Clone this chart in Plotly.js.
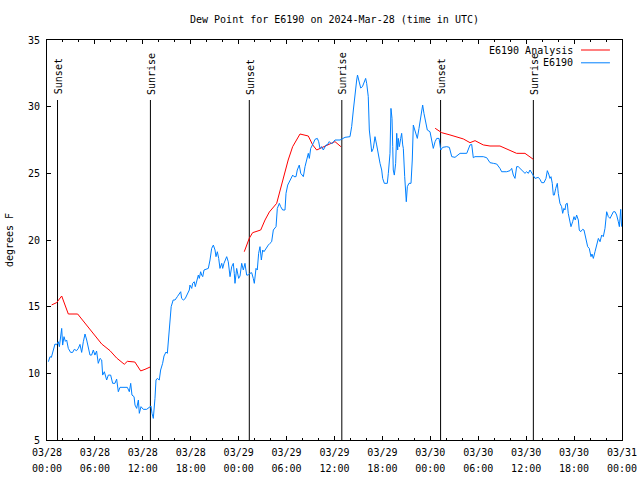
<!DOCTYPE html>
<html>
<head>
<meta charset="utf-8">
<script src="https://cdn.plot.ly/plotly-3.0.1.min.js"></script>
<style>html,body{margin:0;padding:0;background:#fff;}#chart{width:640px;height:480px;}</style>
</head>
<body>
<div id="chart"></div>
<script>
// ---- data (hours after 2024-03-28 00:00 UTC, dew point in °F) ----
var obsHours = [0.17,0.38,0.55,0.79,1.0,1.2,1.42,1.55,1.71,1.84,1.96,2.13,2.3,2.46,2.67,2.96,3.21,3.42,3.7,3.92,4.13,4.34,4.55,4.76,4.97,5.17,5.38,5.59,5.8,6.0,6.21,6.42,6.64,6.85,6.97,7.18,7.47,7.68,7.97,8.22,8.51,8.72,8.93,9.14,9.77,10.06,10.31,10.48,10.64,10.9,11.02,11.23,11.44,11.56,11.77,12.06,12.48,12.81,13.02,13.15,13.31,13.52,13.65,13.81,14.06,14.23,14.48,14.65,14.9,15.07,15.32,15.55,15.8,16.03,16.32,16.57,16.74,16.86,17.07,17.3,17.6,17.82,17.9,18.12,18.24,18.44,18.57,18.74,18.95,19.07,19.24,19.37,19.5,19.66,20.2,20.41,20.62,20.83,21.04,21.16,21.33,21.5,21.66,21.88,22.0,22.16,22.29,22.5,22.7,22.92,23.13,23.33,23.45,23.54,23.75,23.88,24.0,24.17,24.38,24.58,24.79,25.0,25.2,25.41,25.63,25.83,25.96,26.17,26.33,26.5,26.67,26.84,27.01,27.17,27.42,27.71,27.92,28.13,28.34,28.68,28.84,29.09,29.26,29.51,29.8,29.93,30.14,30.43,30.77,30.93,31.18,31.34,31.59,31.77,31.97,32.1,32.31,32.52,32.72,32.85,33.02,33.35,33.56,33.85,34.02,34.18,34.4,34.6,34.94,35.1,35.35,35.65,35.85,36.06,36.69,37.32,37.94,38.15,38.36,38.57,38.78,38.88,39.06,39.28,39.5,39.73,39.9,40.03,40.23,40.36,40.53,40.66,40.86,41.07,41.28,41.49,41.7,41.91,42.03,42.24,42.61,42.74,42.95,43.07,43.2,43.29,43.36,43.49,43.66,43.79,43.91,43.99,44.12,44.29,44.41,44.54,44.62,44.79,44.91,44.99,45.12,45.33,45.58,45.74,45.87,45.99,46.17,46.37,46.58,46.79,47.04,47.2,47.42,47.62,47.96,48.17,48.37,48.59,48.8,49.09,49.3,49.55,50.05,50.38,50.68,51.09,51.51,51.72,52.56,52.97,53.18,53.38,53.59,54.63,55.06,55.47,55.89,56.31,56.72,56.93,57.56,57.98,58.19,58.39,58.6,58.81,59.01,59.22,59.43,59.85,60.06,60.27,60.48,60.69,60.9,61.11,61.52,61.73,61.94,62.23,62.48,62.65,62.82,62.98,63.11,63.27,63.4,63.52,63.7,63.9,64.02,64.23,64.44,64.57,64.73,64.86,64.98,65.15,65.27,65.49,65.61,65.82,65.99,66.15,66.32,66.53,66.65,66.82,67.07,67.24,67.49,67.7,67.9,68.12,68.24,68.41,68.62,68.83,69.04,69.25,69.46,69.66,69.87,70.08,70.29,70.5,70.71,70.92,71.13,71.33,71.54,71.67,71.84,71.95];
var obsDewPoint = [10.87,11.25,11.2,11.87,12.2,12.15,12.37,12.0,13.12,13.37,12.12,12.75,12.4,12.5,11.87,11.57,11.57,11.8,11.7,11.87,12.17,11.57,12.37,12.95,12.5,11.87,11.37,11.37,11.75,11.37,11.67,10.75,11.12,11.0,9.87,10.12,9.5,9.87,9.87,9.25,9.25,9.57,8.62,8.95,8.95,8.95,8.62,9.25,8.37,8.25,7.62,7.37,8.0,7.0,7.5,7.3,7.3,7.5,7.55,7.0,6.62,8.12,9.5,9.62,9.5,10.25,10.75,11.3,11.6,11.5,13.5,15.0,15.5,15.5,15.75,16.0,16.12,15.62,15.5,15.6,16.0,16.25,16.62,16.37,16.75,16.87,16.5,17.0,17.37,17.12,17.62,17.37,17.25,17.75,17.87,18.5,19.37,19.62,19.25,18.75,19.12,18.62,17.87,18.25,17.87,18.25,18.5,18.75,18.37,17.25,18.0,18.25,17.5,16.75,17.87,17.5,17.12,17.3,18.25,17.75,18.25,17.37,17.37,17.5,17.55,17.12,16.75,17.87,17.75,19.0,19.5,18.5,19.25,19.12,19.37,19.62,19.75,19.87,20.75,21.0,22.37,22.75,22.5,22.25,22.25,23.5,24.12,24.5,24.87,24.75,24.75,25.25,25.62,25.0,24.87,24.75,25.5,26.12,26.5,26.12,26.87,27.25,27.55,27.62,27.37,26.87,27.0,26.75,27.13,27.13,27.38,27.2,27.38,27.5,27.5,27.7,27.75,28.5,29.75,31.12,32.0,32.37,31.87,31.4,31.5,31.87,32.12,31.75,30.75,28.25,27.13,26.62,26.87,27.75,27.13,26.37,25.75,25.25,24.62,24.25,24.25,25.0,26.5,29.87,29.12,27.0,25.25,24.87,25.75,28.0,26.75,27.62,27.0,27.62,28.0,27.13,26.87,24.75,23.62,22.87,24.0,24.25,24.25,26.0,28.62,28.37,27.87,27.62,28.37,29.37,30.12,29.5,28.87,28.25,28.12,27.5,26.87,27.37,27.62,27.62,26.75,26.95,27.0,26.95,26.25,26.2,26.37,26.5,26.5,27.13,27.17,26.17,26.25,26.25,26.17,25.8,25.75,25.7,25.37,25.12,25.12,25.2,25.37,24.87,24.62,25.5,25.5,25.37,25.25,25.0,25.12,25.0,25.25,25.05,24.87,24.62,24.7,24.55,24.3,24.3,24.62,25.2,24.95,24.62,24.75,24.25,23.37,23.37,23.87,24.25,23.5,22.75,22.5,22.0,22.37,22.25,22.7,22.75,22.0,21.37,21.0,21.37,21.75,21.5,21.87,21.5,20.75,20.62,20.8,20.75,20.12,19.5,19.37,18.75,18.95,18.62,19.12,19.75,20.12,19.87,20.37,20.25,20.87,22.12,21.75,21.62,21.87,22.12,22.12,21.87,21.37,21.0,22.3,21.0];

// analysis series (null = gap)
var anaHours = [0.58,1.2,1.84,2.67,3.84,4.76,5.8,6.85,7.89,8.72,9.68,10.06,11.0,11.73,12.27,12.9,18.0,24.7,25.33,25.75,26.76,27.3,27.84,28.76,29.6,30.2,30.76,31.68,32.72,33.27,33.77,35.1,36.06,36.8,42.0,48.6,49.42,50.46,51.3,52.13,52.97,53.6,54.63,55.47,56.72,57.98,58.8,59.85,60.48,60.9];
var anaDewPoint = [15.13,15.3,15.8,14.45,14.45,13.75,12.95,12.2,11.7,11.15,10.68,10.9,10.85,10.18,10.3,10.47,null,19.12,20.13,20.55,20.75,21.5,22.1,22.75,24.75,26.0,27.0,27.95,27.8,27.13,26.75,27.13,27.38,27.0,null,28.38,28.05,27.88,27.75,27.58,27.3,27.45,27.13,27.05,27.05,26.75,26.5,26.5,26.25,26.05];

var sunTimes = ["2024-03-28 01:19","2024-03-28 12:57","2024-03-29 01:20","2024-03-29 12:55","2024-03-30 01:17","2024-03-30 12:54"];
var sunLabels = ["Sunset","Sunrise","Sunset","Sunrise","Sunset","Sunrise"];

var tickTimes = ["2024-03-28 00:00","2024-03-28 06:00","2024-03-28 12:00","2024-03-28 18:00","2024-03-29 00:00","2024-03-29 06:00","2024-03-29 12:00","2024-03-29 18:00","2024-03-30 00:00","2024-03-30 06:00","2024-03-30 12:00","2024-03-30 18:00","2024-03-31 00:00"];
var tickDates = ["03/28","03/28","03/28","03/28","03/29","03/29","03/29","03/29","03/30","03/30","03/30","03/30","03/31"];
var tickClock = ["00:00","06:00","12:00","18:00","00:00","06:00","12:00","18:00","00:00","06:00","12:00","18:00","00:00"];

var seriesNames = ["E6190 Analysis","E6190"];
var seriesColors = ["#ff0000","#0080ff"];

// ---- helpers ----
var base = Date.UTC(2024,2,28,0,0,0);
function pad(n){return (n<10?"0":"")+n;}
function hourToStr(h){
  var d = new Date(base + Math.round(h*3600)*1000);
  return d.getUTCFullYear()+"-"+pad(d.getUTCMonth()+1)+"-"+pad(d.getUTCDate())+" "+pad(d.getUTCHours())+":"+pad(d.getUTCMinutes())+":"+pad(d.getUTCSeconds());
}

var FONT = "DejaVu Sans Mono, monospace";
var tickText = tickDates.map(function(d,i){
  return "<span style='font-size:10px'>"+d+"</span><br><span style='font-size:10px'>"+tickClock[i]+"</span>";
});

var traces = [
  {x: anaHours.map(hourToStr), y: anaDewPoint, type:"scatter", mode:"lines", name: seriesNames[0],
   line:{color: seriesColors[0], width:1}, connectgaps:false, hoverinfo:"x+y"},
  {x: obsHours.map(hourToStr), y: obsDewPoint, type:"scatter", mode:"lines", name: seriesNames[1],
   line:{color: seriesColors[1], width:1}, hoverinfo:"x+y"}
];

var shapes = [];
var annotations = [];
sunTimes.forEach(function(t,i){
  shapes.push({type:"line", xref:"x", yref:"y", x0:t, x1:t, y0:5, y1:30.5, line:{color:"black", width:1}, layer:"below"});
  annotations.push({x:t, y:30.75, xref:"x", yref:"y", text:sunLabels[i], textangle:-90, showarrow:false,
    xanchor:"center", yanchor:"bottom", xshift:1, font:{family:FONT, size:10, color:"black"}});
});
// legend (text on left, sample line on right, as in the reference)
var legY = [0.975, 0.943];
seriesNames.forEach(function(n,i){
  annotations.push({xref:"paper", yref:"paper", x:0.919, y:legY[i], text:n, showarrow:false,
    xanchor:"right", yanchor:"middle", font:{family:FONT, size:10, color:"black"}});
  shapes.push({type:"line", xref:"paper", yref:"paper", x0:0.9287, x1:0.979, y0:legY[i], y1:legY[i],
    line:{color:seriesColors[i], width:1}});
});

var layout = {
  width:640, height:480,
  margin:{l:47, r:18, t:40, b:40, pad:0},
  paper_bgcolor:"white", plot_bgcolor:"white",
  font:{family:FONT, size:10, color:"black"},
  showlegend:false,
  title:{text:"Dew Point for E6190 on 2024-Mar-28 (time in UTC)", xref:"paper", x:0.5, xanchor:"center",
    yref:"container", y:0.96, yanchor:"middle", font:{family:FONT, size:10, color:"black"}},
  xaxis:{type:"date", range:["2024-03-28 00:00","2024-03-31 00:00"], tickmode:"array",
    tickvals:tickTimes, ticktext:tickText, ticks:"inside", ticklen:4, tickcolor:"black",
    showline:true, linecolor:"black", linewidth:1, mirror:"ticks", showgrid:false, zeroline:false,
    minor:{dtick:7200000, tick0:"2024-03-28 00:00", ticks:"inside", ticklen:2, tickcolor:"black", showgrid:false},
    tickfont:{family:FONT, size:12.3, color:"black"}, fixedrange:true},
  yaxis:{range:[5,35], dtick:5, tick0:5, ticks:"inside", ticklen:4, tickcolor:"black",
    showline:true, linecolor:"black", linewidth:1, mirror:"ticks", showgrid:false, zeroline:false,
    ticklabelstandoff:4,
    title:{text:"degrees F", font:{family:FONT, size:10, color:"black"}, standoff:12},
    tickfont:{family:FONT, size:10, color:"black"}, fixedrange:true},
  shapes:shapes, annotations:annotations
};

Plotly.newPlot("chart", traces, layout, {displayModeBar:false, staticPlot:true});
</script>
</body>
</html>
